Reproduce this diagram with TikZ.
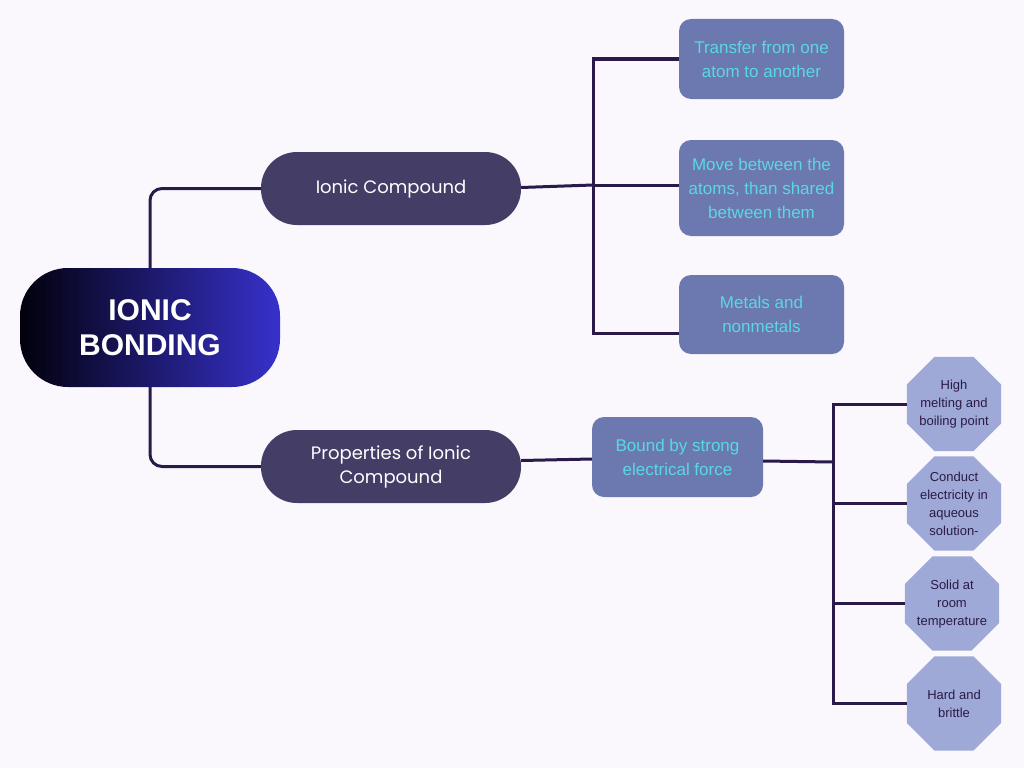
\documentclass[tikz,border=0pt]{standalone}
\usepackage{fontspec}
\setmainfont{Liberation Sans}
\newfontfamily\pop{Poppins}
\usetikzlibrary{shapes.geometric,calc}
\definecolor{bg}{HTML}{FAF8FC}
\definecolor{linec}{HTML}{2A1A4A}
\definecolor{pillc}{HTML}{443D66}
\definecolor{boxc}{HTML}{6C78B0}
\definecolor{cyant}{HTML}{5AD8E2}
\definecolor{octc}{HTML}{9EA9D8}
\definecolor{octt}{HTML}{2B1B45}
\definecolor{gradl}{HTML}{02010C}
\definecolor{gradr}{HTML}{3731CC}
\tikzset{
  conn/.style={draw=linec, line width=3pt},
  pill/.style={rectangle, rounded corners=36pt, fill=pillc, minimum width=260pt, minimum height=73pt,
    text=white, align=center, font=\pop\fontsize{18}{24}\selectfont},
  bluebox/.style={rectangle, rounded corners=12pt, fill=boxc, text=cyant, align=center,
    font=\fontsize{17}{24}\selectfont, inner sep=0pt},
  octo/.style={regular polygon, regular polygon sides=8, minimum size=102pt, inner sep=0pt, fill=octc},
  octtext/.style={text=octt, align=center, font=\fontsize{13}{18}\selectfont, inner sep=0pt}
}
\begin{document}
\begin{tikzpicture}[x=1pt,y=-1pt]
\fill[bg] (0,0) rectangle (1024,768);
\useasboundingbox (0,0) rectangle (1024,768);

% main node
\node[rectangle, rounded corners=48pt, left color=gradl, right color=gradr, minimum width=260pt, minimum height=119pt,
  text=white, align=center, font=\bfseries\fontsize{30}{35}\selectfont] (main) at (150,327.5) {IONIC\\BONDING};

% second level
\node[pill] (ic) at (391,188.5) {Ionic Compound};
\node[pill] (pr) at (391,466.5) {Properties of Ionic\\Compound};

% blue boxes
\node[bluebox, minimum width=165pt, minimum height=80pt] (t1) at (761.5,59) {Transfer from one\\atom to another};
\node[bluebox, minimum width=165pt, minimum height=96pt] (t2) at (761.5,188) {Move between the\\atoms, than shared\\between them};
\node[bluebox, minimum width=165pt, minimum height=79pt] (t3) at (761.5,314.5) {Metals and\\nonmetals};
\node[bluebox, minimum width=171pt, minimum height=80pt] (bd) at (677.5,457) {Bound by strong\\electrical force};

% octagons
\node[octo] (o1) at (954,404) {};
\node[octo] (o2) at (954,503.5) {};
\node[octo] (o3) at (952,603.5) {};
\node[octo] (o4) at (954,703.5) {};
\node[octtext] (l1) at (954,404.5) {High\\melting and\\boiling point};
\node[octtext] (l2) at (954,504) {Conduct\\electricity in\\aqueous\\solution-};
\node[octtext] (l3) at (952,604) {Solid at\\room\\temperature};
\node[octtext] (l4) at (954,704) {Hard and\\brittle};

% connectors
\draw[conn, rounded corners=12pt] (main.north) |- (ic.west);
\draw[conn, rounded corners=12pt] (main.south) |- (pr.west);

\coordinate (j1) at (593,185);
\coordinate (c3) at (679,333);
\draw[conn] ($(ic.east)+(0,-1)$) -- (j1);
\draw[conn] (t1.west) -- (t1.west -| j1) -- (c3 -| j1) -- (c3);
\draw[conn] (j1) -- (j1 -| t2.west);

\coordinate (j2) at (833,462);
\draw[conn] ($(pr.east)+(0,-6)$) -- ($(bd.west)+(0,2)$);
\draw[conn] ($(bd.east)+(0,4)$) -- (j2);
\draw[conn] (o1.west) -- (o1.west -| j2) -- (o4.west -| j2) -- (o4.west);
\draw[conn] (o2.west -| j2) -- (o2.west);
\draw[conn] (o3.west -| j2) -- (o3.west);
\end{tikzpicture}
\end{document}
